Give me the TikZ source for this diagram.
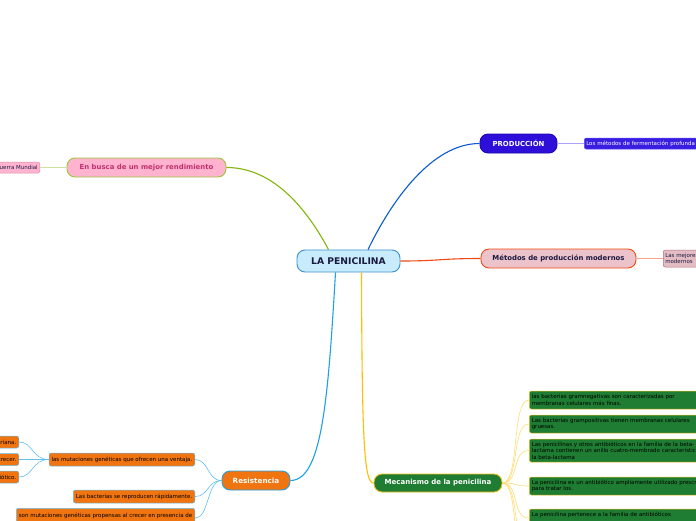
\documentclass[tikz,border=0pt]{standalone}
\usepackage{fontspec}
\setmainfont{DejaVu Sans}
\definecolor{cfill}{HTML}{C9ECFC}
\definecolor{cdraw}{HTML}{3B8FD4}
\definecolor{lblue}{HTML}{0A5AD0}
\definecolor{pfill}{HTML}{2D0FD9}
\definecolor{pdraw}{HTML}{1A0AB0}
\definecolor{pcfill}{HTML}{3A1EE0}
\definecolor{pcdraw}{HTML}{5A48FF}
\definecolor{lgreen}{HTML}{82B40A}
\definecolor{bfill}{HTML}{FFB3CF}
\definecolor{bdraw}{HTML}{9CC43A}
\definecolor{btext}{HTML}{C0306E}
\definecolor{bcdraw}{HTML}{D890A8}
\definecolor{lred}{HTML}{F04A12}
\definecolor{mfill}{HTML}{ECC2CB}
\definecolor{mcfill}{HTML}{E4BCC4}
\definecolor{mcdraw}{HTML}{B07080}
\definecolor{lyel}{HTML}{FFBF00}
\definecolor{gfill}{HTML}{1E7D32}
\definecolor{gdraw}{HTML}{F0C020}
\definecolor{lres}{HTML}{1EA0E6}
\definecolor{ofill}{HTML}{F07410}
\definecolor{odraw}{HTML}{60C0F0}
\definecolor{dtext}{HTML}{1A1A40}
\tikzset{
  mainbox/.style={rounded corners=8pt, draw, line width=0.9pt, font=\bfseries\fontsize{6.9}{8}\selectfont, inner sep=0pt, minimum height=19pt},
  leaf/.style={rounded corners=2pt, draw, line width=0.5pt, font=\fontsize{5.5}{6.6}\selectfont, inner sep=2.5pt, align=left},
  mainline/.style={line width=1.1pt},
  subline/.style={line width=0.6pt},
}
\begin{document}
\begin{tikzpicture}[x=1pt,y=-1pt]
\useasboundingbox (0,0) rectangle (696,520);
% main nodes
\node[mainbox, fill=cfill, draw=cdraw, text=dtext, minimum width=103pt, minimum height=22pt, font=\bfseries\fontsize{9.2}{10}\selectfont] (c) at (348.5,261) {LA PENICILINA};
\node[mainbox, fill=pfill, draw=pdraw, text=white, minimum width=77pt] (prod) at (518.5,143.5) {PRODUCCIÓN};
\node[mainbox, fill=bfill, draw=bdraw, text=btext, minimum width=159pt] (busca) at (146.5,167.5) {En busca de un mejor rendimiento};
\node[mainbox, fill=mfill, draw=lred, text=dtext, minimum width=155pt] (met) at (558.5,258.5) {Métodos de producción modernos};
\node[mainbox, fill=gfill, draw=gdraw, text=white, minimum width=128pt, minimum height=18pt, font=\bfseries\fontsize{7}{8}\selectfont] (mec) at (438,483) {Mecanismo de la penicilina};
\node[mainbox, fill=ofill, draw=lres, text=white, minimum width=68pt, font=\bfseries\fontsize{7.2}{8}\selectfont] (res) at (256,480.5) {Resistencia};
% leaves
\node[leaf, fill=pcfill, draw=pcdraw, text=white, anchor=west, text width=160pt, minimum height=11pt, inner sep=2pt] (pc) at (584,143.5) {Los métodos de fermentación profunda};
\node[leaf, fill=bfill, draw=bcdraw, text=dtext, anchor=east, minimum height=11pt, inner sep=2pt] (bc) at (40,167.5) {Segunda Guerra Mundial};
\node[leaf, fill=mcfill, draw=mcdraw, text=dtext, anchor=west, text width=60pt, minimum height=17pt, inner sep=2pt] (mc) at (663,258.5) {Las mejores\\modernos};
% green leaves
\node[leaf, fill=gfill, draw=gdraw, text=black, anchor=west, text width=210pt, minimum height=18pt] (g1) at (529,400) {las bacterias gramnegativas son caracterizadas por\\membranas celulares más finas.};
\node[leaf, fill=gfill, draw=gdraw, text=black, anchor=west, text width=210pt, minimum height=18pt] (g2) at (529,424) {Las bacterias grampositivas tienen membranas celulares\\gruesas.};
\node[leaf, fill=gfill, draw=gdraw, text=black, anchor=west, text width=210pt, minimum height=23pt, inner ysep=1.5pt] (g3) at (529,450.5) {Las penicilinas y otros antibióticos en la familia de la beta-\\lactama contienen un anillo cuatro-membrado característico de\\la beta-lactama};
\node[leaf, fill=gfill, draw=gdraw, text=black, anchor=west, text width=210pt, minimum height=18pt] (g4) at (529,486) {La penicilina es un antibiótico ampliamente utilizado prescrito\\para tratar los.};
\node[leaf, fill=gfill, draw=gdraw, text=black, anchor=west, text width=210pt, minimum height=18pt] (g5) at (529,518) {La penicilina pertenece a la familia de antibióticos\\~};
\coordinate (g6) at (529,545);
\coordinate (g7) at (529,575);
% orange leaves
\node[leaf, fill=ofill, draw=odraw, text=black, anchor=east, minimum height=13pt] (o1) at (195,459.5) {las mutaciones genéticas que ofrecen una ventaja.};
\node[leaf, fill=ofill, draw=odraw, text=black, anchor=east, minimum height=13pt] (o2) at (195,496.5) {Las bacterias se reproducen rápidamente.};
\node[leaf, fill=ofill, draw=odraw, text=black, anchor=north east, minimum height=20pt] (o3) at (195,508) {son mutaciones genéticas propensas al crecer en presencia de\\~};
\node[leaf, fill=ofill, draw=odraw, text=black, anchor=east, minimum height=12pt] (a1) at (19,442) {la resistencia bacteriana.};
\node[leaf, fill=ofill, draw=odraw, text=black, anchor=east, minimum height=12pt] (a2) at (19,459.5) {les ayudan a crecer.};
\node[leaf, fill=ofill, draw=odraw, text=black, anchor=east, minimum height=12pt] (a3) at (19,477) {del antibiótico.};
% main connectors
\draw[mainline, lblue] ([xshift=19.5pt]c.north) .. controls (392,200) and (432,143.5) .. (prod.west);
\draw[mainline, lgreen] ([xshift=-20pt]c.north) .. controls (302,200) and (268,167.5) .. (busca.east);
\draw[mainline, lred] (c.east) .. controls (440,261) and (440,258.5) .. (met.west);
\draw[mainline, lyel] ([xshift=13pt]c.south) .. controls (362,440) and (364,483) .. (mec.west);
\draw[mainline, lres] ([xshift=-13pt]c.south) .. controls (328,400) and (322,480.5) .. (res.east);
% sub connectors
\draw[subline, pcdraw!50] (prod.east) -- (pc.west);
\draw[subline, lgreen!40] (busca.west) -- (bc.east);
\draw[subline, lred!50] (met.east) -- (mc.west);
\foreach \g in {g1,g2,g3,g4,g5,g6,g7}
  \draw[subline, lyel!55] (mec.east) .. controls (520,483) and (511,483 |- \g) .. (\g.west);
\foreach \o in {o1,o2,o3}
  \draw[subline, odraw] (res.west) .. controls (207,480.5) and (209,480.5 |- \o.east) .. (\o.east);
\foreach \a in {a1,a2,a3}
  \draw[subline, odraw] (o1.west) .. controls (32,459.5) and (33,459.5 |- \a.east) .. (\a.east);
\end{tikzpicture}
\end{document}
